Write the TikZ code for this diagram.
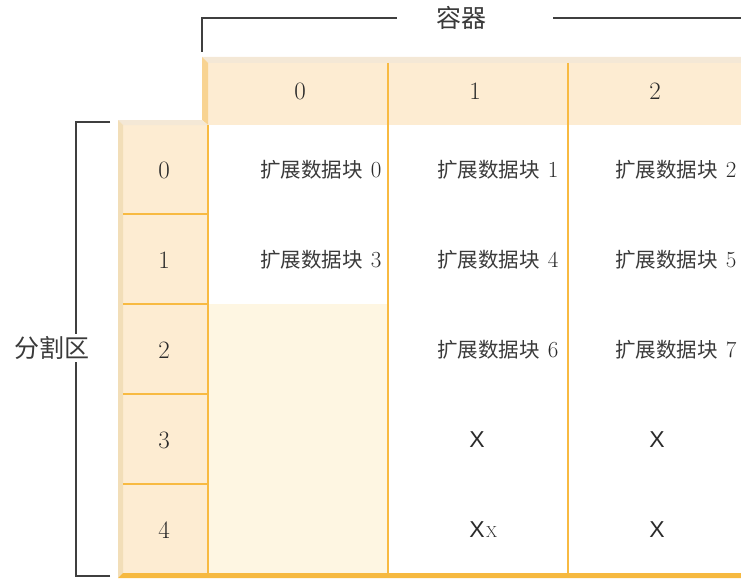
\documentclass[tikz,border=0pt]{standalone}
\usepackage{fontspec}
\newfontfamily\cjk{Noto Sans CJK SC}
\newfontfamily\sansx{Liberation Sans}
\definecolor{hdrfill}{HTML}{FDECD2}
\definecolor{topbev}{HTML}{F4E8D6}
\definecolor{leftbevhdr}{HTML}{F8D391}
\definecolor{leftbevrow}{HTML}{F2DEB8}
\definecolor{gridline}{HTML}{F8BA42}
\definecolor{cream}{HTML}{FEF6E2}
\definecolor{bar}{HTML}{F6B940}
\definecolor{ink}{HTML}{2A2A2A}
\definecolor{cjkink}{HTML}{3A3A3A}
\newcommand{\ext}[1]{{\color{cjkink}\cjk\fontsize{20.5}{24}\selectfont 扩展数据块}\hspace{8pt}{\fontsize{23}{26}\selectfont #1}}
\tikzset{
  celltxt/.style={text=ink, inner sep=0pt},
  hdrtxt/.style={text=ink, inner sep=0pt, font=\fontsize{25}{28}\selectfont},
  bigtxt/.style={text=cjkink, inner sep=2pt, font=\cjk\fontsize{25}{30}\selectfont},
  xmark/.style={text=ink, inner sep=0pt, font=\sansx\fontsize{23}{26}\selectfont},
  grid/.style={draw=gridline, line width=2pt},
  brk/.style={draw=ink!90, line width=1.6pt},
}
\begin{document}
\begin{tikzpicture}[x=1pt,y=-1pt]
\useasboundingbox (0,0) rectangle (741,578);
% header band
\fill[hdrfill] (208,63) rectangle (741,125);
\fill[topbev] (202,57) -- (741,57) -- (741,63) -- (208,63) -- cycle;
\fill[leftbevhdr] (202,57) -- (208,63) -- (208,125) -- (202,120) -- cycle;
% row column
\fill[hdrfill] (123,125) rectangle (208,574);
\fill[topbev] (118,120) -- (202,120) -- (208,125) -- (123,125) -- cycle;
\fill[leftbevrow] (118,120) -- (123,125) -- (123,574) -- (118,578) -- cycle;
% empty cream region
\fill[cream] (209,304) rectangle (388,574);
% grid lines
\foreach \yy in {214,304,394,484} \draw[grid] (123,\yy) -- (208,\yy);
\draw[grid] (208,125) -- (208,574);
\draw[grid] (388,63) -- (388,574);
\draw[grid] (568,63) -- (568,574);
% bottom bar
\fill[bar] (118,578) -- (123,573) -- (741,573) -- (741,578) -- cycle;

% header labels
\node[hdrtxt] (c0) at (300,91) {0};
\node[hdrtxt] (c1) at (475,91) {1};
\node[hdrtxt] (c2) at (655,91) {2};
% row labels
\node[hdrtxt] (r0) at (164,170) {0};
\node[hdrtxt] (r1) at (164,260) {1};
\node[hdrtxt] (r2) at (164,350) {2};
\node[hdrtxt] (r3) at (164,440) {3};
\node[hdrtxt] (r4) at (164,530) {4};

% cells
\node[celltxt] (e0) at (321,170) {\ext{0}};
\node[celltxt] (e1) at (498,170) {\ext{1}};
\node[celltxt] (e2) at (676,170) {\ext{2}};
\node[celltxt] (e3) at (321,260) {\ext{3}};
\node[celltxt] (e4) at (498,260) {\ext{4}};
\node[celltxt] (e5) at (676,260) {\ext{5}};
\node[celltxt] (e6) at (498,350) {\ext{6}};
\node[celltxt] (e7) at (676,350) {\ext{7}};
\node[xmark] (x13) at (477,440) {X};
\node[xmark] (x23) at (657,440) {X};
\node[xmark] (x14) at (477,530) {X};
\node[text=ink, inner sep=0pt, font=\fontsize{16}{18}\selectfont, anchor=base west] (x14s) at ([xshift=1pt]x14.base east) {X};
\node[xmark] (x24) at (657,530) {X};

% container bracket
\node[bigtxt] (cont) at (461,18) {容器};
\coordinate (ct0) at (202,52);
\coordinate (ct1) at (202,18);
\coordinate (ct2) at (741,18);
\draw[brk] (ct0) -- (ct1) -- (ct1 -| 397,0);
\draw[brk] (ct2 -| 553,0) -- (ct2);

% partition bracket
\node[bigtxt] (part) at (52,348) {分割区};
\coordinate (pt0) at (110,122);
\coordinate (pt1) at (76,122);
\coordinate (pb0) at (110,576);
\coordinate (pb1) at (76,576);
\draw[brk] (pt0) -- (pt1) -- (pt1 |- part.north);
\draw[brk] (pb0) -- (pb1) -- (pb1 |- part.south);
\end{tikzpicture}
\end{document}
